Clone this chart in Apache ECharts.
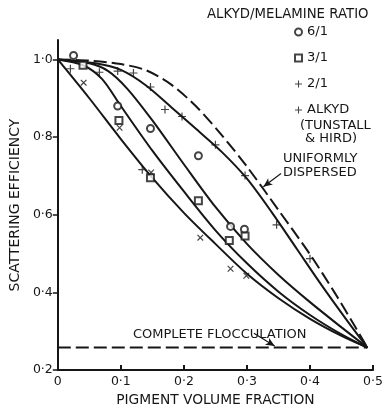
<!DOCTYPE html>
<html>
<head>
<meta charset="utf-8">
<script src="https://cdn.jsdelivr.net/npm/echarts@6/dist/echarts.min.js"></script>
<style>
  html, body { margin: 0; padding: 0; background: #fff; }
  #chart { width: 386px; height: 412px; }
</style>
</head>
<body>
<div id="chart"></div>
<script>
// axis ticks
const xTicks = [0, 0.1, 0.2, 0.3, 0.4, 0.5]
const yTicks = [0.2, 0.4, 0.6, 0.8, 1.0]

// measured points (pigment volume fraction, scattering efficiency)
const ratio61 = [[0.025, 1.01], [0.095, 0.88], [0.147, 0.822], [0.223, 0.752], [0.274, 0.57], [0.296, 0.563]]
const ratio31 = [[0.04, 0.985], [0.097, 0.843], [0.147, 0.695], [0.223, 0.636], [0.272, 0.534], [0.297, 0.545]]
const ratio21 = [[0.041, 0.94], [0.098, 0.824], [0.148, 0.709], [0.226, 0.541], [0.274, 0.461], [0.299, 0.443]]
const alkydPts = [[0.02, 0.976], [0.066, 0.967], [0.095, 0.97], [0.12, 0.965], [0.147, 0.929], [0.17, 0.871],
  [0.197, 0.853], [0.134, 0.716], [0.25, 0.78], [0.297, 0.701], [0.347, 0.574], [0.40, 0.487]]

// fitted curves
const curve21 = [[0, 1.0], [0.05, 0.90], [0.10, 0.795], [0.15, 0.695], [0.20, 0.605], [0.25, 0.525],
  [0.30, 0.448], [0.35, 0.385], [0.40, 0.332], [0.45, 0.288], [0.491, 0.258]]
const curve31 = [[0, 1.0], [0.04, 0.985], [0.07, 0.95], [0.10, 0.88], [0.15, 0.765], [0.20, 0.66],
  [0.25, 0.56], [0.30, 0.475], [0.35, 0.402], [0.40, 0.342], [0.45, 0.292], [0.491, 0.258]]
const curve61 = [[0, 1.0], [0.05, 0.99], [0.08, 0.97], [0.11, 0.925], [0.15, 0.843], [0.20, 0.73],
  [0.25, 0.62], [0.30, 0.525], [0.35, 0.445], [0.40, 0.375], [0.45, 0.31], [0.491, 0.258]]
const curveAlkyd = [[0, 1.0], [0.06, 0.99], [0.10, 0.973], [0.14, 0.933], [0.18, 0.877], [0.22, 0.82],
  [0.26, 0.762], [0.30, 0.693], [0.34, 0.605], [0.38, 0.51], [0.42, 0.415], [0.46, 0.325], [0.491, 0.258]]
const curveUniform = [[0, 1.0], [0.05, 0.997], [0.10, 0.988], [0.14, 0.972], [0.18, 0.935], [0.22, 0.878],
  [0.26, 0.805], [0.30, 0.724], [0.35, 0.612], [0.40, 0.498], [0.44, 0.397], [0.47, 0.316], [0.491, 0.258]]
const flocculation = [[0, 0.258], [0.491, 0.258]]

// annotation arrows (from, to)
const arrowUniform = [[0.354, 0.706], [0.326, 0.672]]
const arrowFloc = [[0.311, 0.295], [0.344, 0.262]]

const ink = '#161616'
const font = 'DejaVu Sans'
const plusPath = 'path://M0,4.25H10V5.75H0Z M4.25,0H5.75V10H4.25Z'

function fmt(v) {
  if (v === 0) return '0'
  return v.toFixed(1).replace('.', '·')
}

function curve(name, data, dashed) {
  return {
    name: name,
    type: 'line',
    data: data,
    smooth: 0.3,
    symbol: 'none',
    silent: true,
    lineStyle: { color: ink, width: 2, type: dashed ? [13, 5] : 'solid' },
    z: 2
  }
}

function arrow(pair) {
  return {
    silent: true,
    symbol: ['none', 'arrow'],
    symbolSize: [6, 9],
    label: { show: false },
    lineStyle: { color: ink, width: 1.2, type: 'solid' },
    data: [[{ coord: pair[0] }, { coord: pair[1] }]]
  }
}

const chart = echarts.init(document.getElementById('chart'))

let series = [
  curve('c21', curve21),
  curve('c31', curve31),
  curve('c61', curve61),
  curve('calkyd', curveAlkyd),
  Object.assign(curve('uniform', curveUniform, true), { markLine: arrow(arrowUniform) }),
  Object.assign(curve('floc', flocculation, true), { smooth: false, markLine: arrow(arrowFloc) }),
  {
    name: '6/1', type: 'scatter', data: ratio61, symbol: 'emptyCircle', symbolSize: 7,
    itemStyle: { color: ink, borderColor: ink, borderWidth: 1 }, z: 3
  },
  {
    name: '3/1', type: 'scatter', data: ratio31, symbol: 'emptyRect', symbolSize: 7,
    itemStyle: { color: ink, borderColor: ink, borderWidth: 1 }, z: 3
  },
  {
    name: '2/1', type: 'scatter', data: ratio21, symbol: plusPath, symbolRotate: 45, symbolSize: 8,
    itemStyle: { color: ink }, z: 3
  },
  {
    name: 'ALKYD', type: 'scatter', data: alkydPts, symbol: plusPath, symbolSize: 8,
    itemStyle: { color: ink }, z: 3
  }
]

let option = {
  backgroundColor: '#fff',
  animation: false,
  textStyle: { fontFamily: font, color: ink },
  title: {
    text: 'ALKYD/MELAMINE RATIO',
    left: 207,
    top: 8,
    padding: 0,
    textStyle: { fontFamily: font, fontSize: 13.3, fontWeight: 'normal', color: ink }
  },
  legend: {
    orient: 'vertical',
    left: 294,
    top: 25,
    padding: 0,
    itemWidth: 7,
    itemHeight: 7,
    itemGap: 12,
    selectedMode: false,
    data: ['6/1', '3/1', '2/1', 'ALKYD'],
    itemStyle: { borderWidth: 0.8 },
    textStyle: { fontFamily: font, fontSize: 13, color: ink, lineHeight: 14 }
  },
  grid: { left: 49, right: 11, top: 40, bottom: 31 },
  xAxis: {
    type: 'value',
    min: 0,
    max: 0.5,
    interval: 0.1,
    name: 'PIGMENT VOLUME FRACTION',
    nameLocation: 'middle',
    nameGap: 19,
    nameTextStyle: { fontFamily: font, fontSize: 13.8, color: ink },
    splitLine: { show: false },
    axisLine: { lineStyle: { color: ink, width: 2 } },
    axisTick: { inside: true, length: 5, lineStyle: { color: ink, width: 2 } },
    axisLabel: { margin: 5, fontSize: 12.5, color: ink, fontFamily: font, formatter: fmt }
  },
  yAxis: {
    type: 'value',
    min: 0.2,
    max: 1.05,
    name: 'SCATTERING EFFICIENCY',
    nameLocation: 'middle',
    nameGap: 34,
    nameTextStyle: { fontFamily: font, fontSize: 14, color: ink },
    splitLine: { show: false },
    axisLine: { show: true, lineStyle: { color: ink, width: 2 } },
    axisTick: { show: true, length: 5, customValues: yTicks, lineStyle: { color: ink, width: 1.5 } },
    axisLabel: { margin: 5, fontSize: 12.5, color: ink, fontFamily: font, customValues: yTicks, formatter: fmt }
  },
  graphic: [
    { type: 'text', left: 300, top: 119, style: { text: '(TUNSTALL', font: '13px ' + font, fill: ink } },
    { type: 'text', left: 305, top: 132, style: { text: '& HIRD)', font: '13px ' + font, fill: ink } },
    { type: 'text', left: 283, top: 152, style: { text: 'UNIFORMLY', font: '13px ' + font, fill: ink } },
    { type: 'text', left: 283, top: 166, style: { text: 'DISPERSED', font: '13px ' + font, fill: ink } },
    { type: 'text', left: 133, top: 328, style: { text: 'COMPLETE FLOCCULATION', font: '13px ' + font, fill: ink } }
  ],
  series: series
}

chart.setOption(option)
</script>
</body>
</html>
